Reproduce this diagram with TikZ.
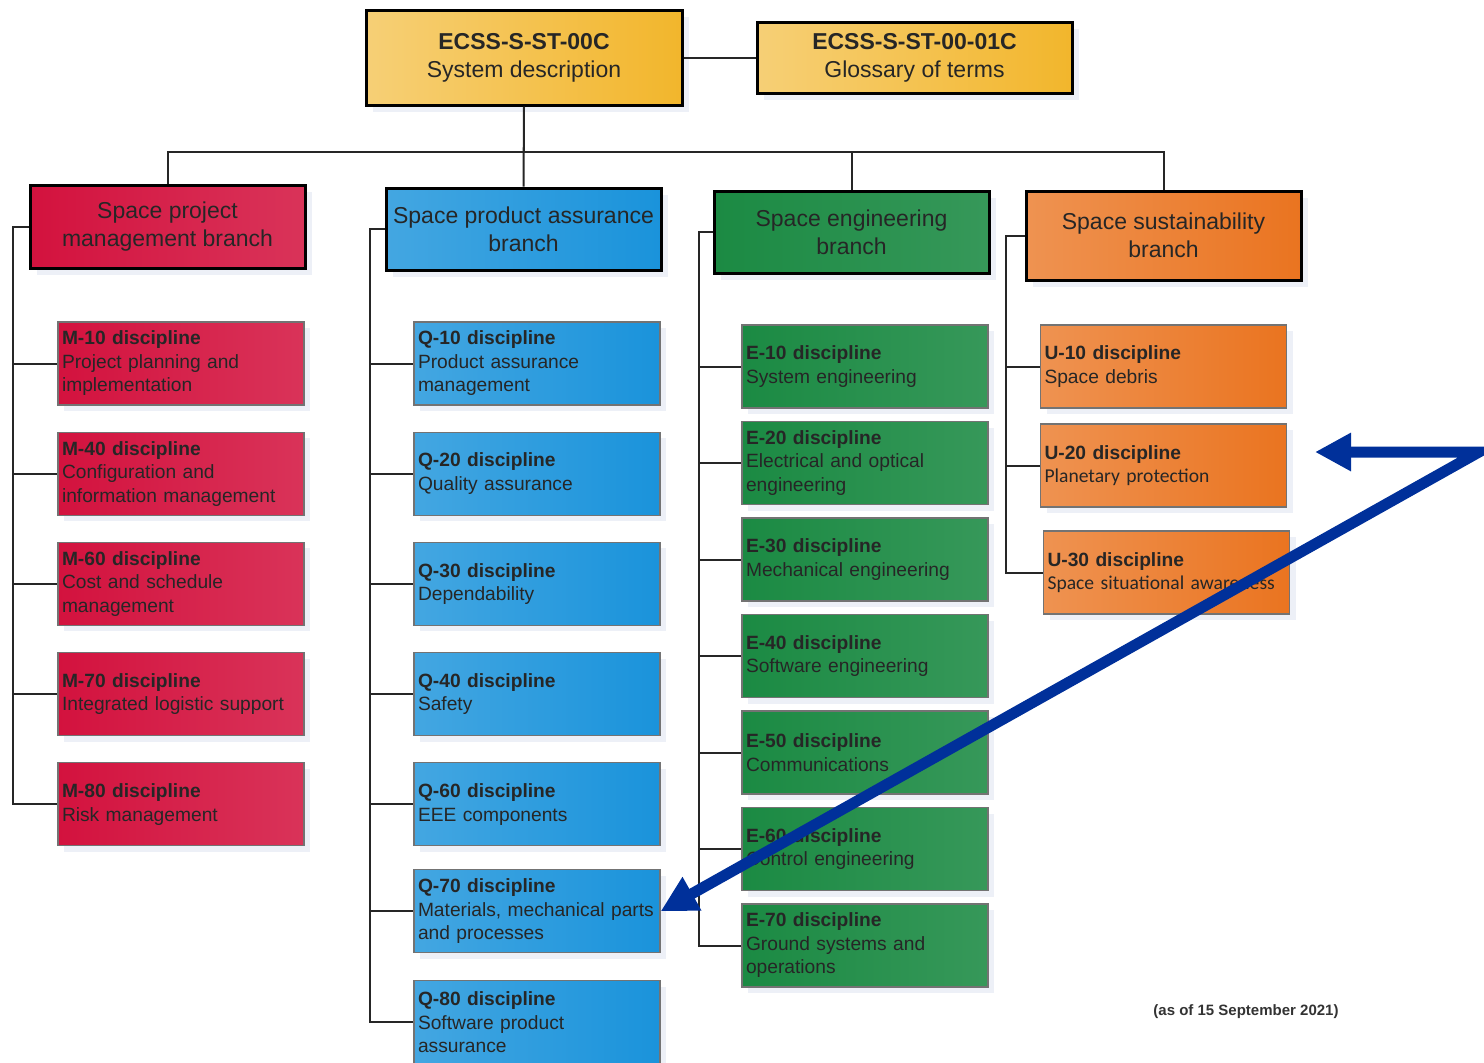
\documentclass[tikz,border=0pt]{standalone}
\usepackage{fontspec}
\setmainfont{Liberation Sans}
\newfontfamily\calibri{Carlito}
\usepackage{tikz}
\usetikzlibrary{arrows.meta, positioning, shadows}
\definecolor{ecssyellow}{HTML}{F2B62C}
\definecolor{ecssred}{HTML}{D3123E}
\definecolor{ecssblue}{HTML}{1A93DB}
\definecolor{ecssgreen}{HTML}{1B8A43}
\definecolor{ecssorange}{HTML}{EA7420}
\definecolor{shadowc}{HTML}{DCE1F0}
\definecolor{arrowblue}{HTML}{00309A}

\begin{document}
\begin{tikzpicture}[x=0.5pt, y=0.5pt, node distance=13pt]
    \useasboundingbox (0,0) rectangle (1484,-1062);
    \tikzstyle{head} = [rectangle, draw=black, line width=1.5pt, align=center,
        text=black!85, font=\fontsize{11.5}{14}\selectfont,
        drop shadow={shadow xshift=3.5pt, shadow yshift=-3.5pt, fill=shadowc}]
    \tikzstyle{disc} = [rectangle, draw=black!55, line width=0.6pt,
        text width=119pt, inner xsep=2pt, inner ysep=2pt, minimum height=41.5pt,
        align=left, text=black!85, font=\fontsize{9.6}{11.75}\selectfont,
        drop shadow={shadow xshift=3pt, shadow yshift=-3pt, fill=shadowc}]
    \tikzstyle{yel} = [left color=ecssyellow!65!white, right color=ecssyellow]
    \tikzstyle{red} = [left color=ecssred, right color=ecssred!86!white]
    \tikzstyle{blu} = [left color=ecssblue!82!white, right color=ecssblue]
    \tikzstyle{grn} = [left color=ecssgreen, right color=ecssgreen!88!white]
    \tikzstyle{org} = [left color=ecssorange!78!white, right color=ecssorange]
    \tikzstyle{link} = [line width=1pt, black!85]
    \tikzstyle{pointer} = [line width=5.5pt, arrowblue,
        {Triangle[length=18pt,width=18pt]}-{Triangle[length=18pt,width=18pt]}]

    \node (sys) [head, yel, minimum width=158pt, minimum height=47.5pt]
        at (524,-57.5) {\textbf{ECSS-S-ST-00C} \\ System description};
    \node (gloss) [head, yel, minimum width=157.5pt, minimum height=35.5pt]
        at (914.5,-57.5) {\textbf{ECSS-S-ST-00-01C} \\ Glossary of terms};

    % the four branches hang from one bus, 45 px under the system box
    \node (pm) [head, red, minimum width=137.5pt, minimum height=41.5pt]
        at (167.5,-226.5) {Space project \\ management branch};
    \node (pa) [head, blu, minimum width=137.5pt, minimum height=41pt]
        at (523.5,-229) {Space product assurance \\ branch};
    \node (eng) [head, grn, minimum width=137.5pt, minimum height=41pt]
        at (851.5,-232) {Space engineering \\ branch};
    \node (sus) [head, org, minimum width=137.5pt, minimum height=44.5pt]
        at (1163.5,-235.5) {Space sustainability \\ branch};

    % M disciplines
    \node (m10) [disc, red] at (181,-363.5) {\textbf{M-10 discipline} \\ Project planning and \\ implementation};
    \node (m40) [disc, red, below=of m10] {\textbf{M-40 discipline} \\ Configuration and \\ information management};
    \node (m60) [disc, red, below=of m40] {\textbf{M-60 discipline} \\ Cost and schedule \\ management};
    \node (m70) [disc, red, below=of m60] {\textbf{M-70 discipline} \\ Integrated logistic support};
    \node (m80) [disc, red, below=of m70] {\textbf{M-80 discipline} \\ Risk management};

    % Q disciplines
    \node (q10) [disc, blu] at (537,-363.5) {\textbf{Q-10 discipline} \\ Product assurance \\ management};
    \node (q20) [disc, blu, below=of q10] {\textbf{Q-20 discipline} \\ Quality assurance};
    \node (q30) [disc, blu, below=of q20] {\textbf{Q-30 discipline} \\ Dependability};
    \node (q40) [disc, blu, below=of q30] {\textbf{Q-40 discipline} \\ Safety};
    \node (q60) [disc, blu, below=of q40] {\textbf{Q-60 discipline} \\ EEE components};
    \node (q70) [disc, blu, below=11.4pt of q60] {\textbf{Q-70 discipline} \\ Materials, mechanical parts \\ and processes};
    \node (q80) [disc, blu, below=13.4pt of q70] {\textbf{Q-80 discipline} \\ Software product \\ assurance};

    % E disciplines
    \node (e10) [disc, grn] at (865,-366.5) {\textbf{E-10 discipline} \\ System engineering};
    \node (e20) [disc, grn, below=6.15pt of e10] {\textbf{E-20 discipline} \\ Electrical and optical \\ engineering};
    \node (e30) [disc, grn, below=6.15pt of e20] {\textbf{E-30 discipline} \\ Mechanical engineering};
    \node (e40) [disc, grn, below=6.15pt of e30] {\textbf{E-40 discipline} \\ Software engineering};
    \node (e50) [disc, grn, below=6.15pt of e40] {\textbf{E-50 discipline} \\ Communications};
    \node (e60) [disc, grn, below=6.15pt of e50] {\textbf{E-60 discipline} \\ Control engineering};
    \node (e70) [disc, grn, below=6.15pt of e60] {\textbf{E-70 discipline} \\ Ground systems and \\ operations};

    % U disciplines
    \node (u10) [disc, org] at (1163.5,-366.5) {\textbf{U-10 discipline} \\ Space debris};
    \node (u20) [disc, org, below=7.4pt of u10] {\textbf{U-20 discipline} \\ {\calibri\fontsize{9.8}{11.75}\selectfont Planetary protection}};
    \node (u30) [disc, org, below=11.4pt of u20, xshift=1.5pt] {\textbf{U-30 discipline} \\ {\calibri\fontsize{9.8}{11.75}\selectfont Space situational awareness}};

    \node (asof) [font=\bfseries\fontsize{7.5}{9}\selectfont, text=black!80]
        at (1246,-1012) {(as of 15 September 2021)};

    \draw [link] (sys.east) -- (gloss.west);
    \draw [link] (sys.south) -- (pa.north);
    \draw [link] (sys.south) -- ++(0,-45) -| (pm.north);
    \draw [link] (sys.south) -- ++(0,-45) -| (eng.north);
    \draw [link] (sys.south) -- ++(0,-45) -| (sus.north);

    \foreach \d in {m10,m40,m60,m70,m80}
        \draw [link] (pm.west) -- ++(-16,0) |- (\d.west);
    \foreach \d in {q10,q20,q30,q40,q60,q70,q80}
        \draw [link] (pa.west) -- ++(-15,0) |- (\d.west);
    \foreach \d in {e10,e20,e30,e40,e50,e60,e70}
        \draw [link] (eng.west) -- ++(-14,0) |- (\d.west);
    \foreach \d in {u10,u20,u30}
        \draw [link] (sus.west) -- ++(-19,0) |- (\d.west);

    % the blue double arrow lies over the boxes, so it comes last
    \coordinate (tipu) at (1315,-452);
    \coordinate (kink) at (1479,-452);
    \draw [pointer] (tipu) -- (kink) -- (q70.east);
\end{tikzpicture}
\end{document}
